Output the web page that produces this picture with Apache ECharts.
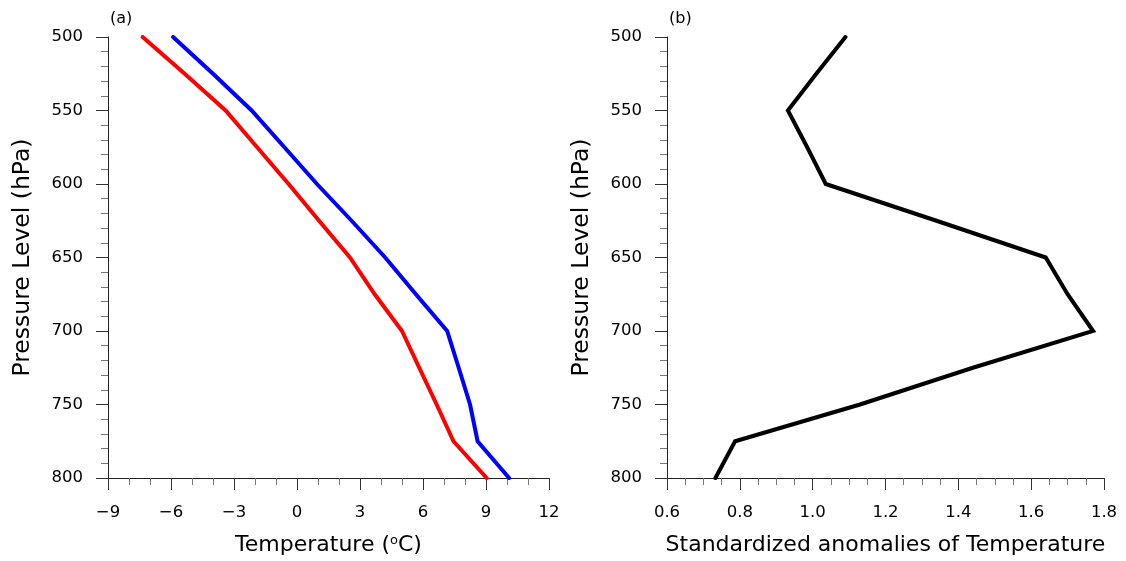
<!DOCTYPE html>
<html>
<head>
<meta charset="utf-8">
<script src="https://cdn.jsdelivr.net/npm/echarts@6/dist/echarts.min.js"></script>
<style>
  html, body { margin: 0; padding: 0; background: #fff; }
  #chart { width: 1126px; height: 561px; }
</style>
</head>
<body>
<div id="chart"></div>
<script>
// Pressure levels (hPa) shared by both profiles
const levels = [500, 525, 550, 575, 600, 625, 650, 675, 700, 725, 750, 775, 800];
// Panel (a): temperature profiles (°C)
const tempRed  = [-7.35, -5.35, -3.4, -1.9, -0.4, 1.05, 2.52, 3.7, 5.0, 5.82, 6.65, 7.45, 9.03];
const tempBlue = [-5.9, -4.0, -2.16, -0.6, 0.95, 2.6, 4.2, 5.66, 7.15, 7.7, 8.24, 8.6, 10.1];
// Panel (b): standardized temperature anomalies
const anomaly  = [1.09, 1.01, 0.932, 0.985, 1.036, 1.34, 1.64, 1.70, 1.77, 1.44, 1.13, 0.787, 0.733];

const FONT = '"DejaVu Sans", Verdana, sans-serif';
const TICK_FS = 16.5;
const TITLE_FS = 22;
const YTITLE_FS = 23.5;

function pairs(xs) { return xs.map((v, i) => [v, levels[i]]); }

function baseAxisStyle() {
  return {
    axisLine: { show: true, onZero: false, lineStyle: { color: '#222', width: 1 } },
    axisTick: { show: true, inside: false, length: 12, lineStyle: { color: '#333', width: 1 } },
    splitLine: { show: false },
    minorSplitLine: { show: false }
  };
}

function yAxisFor(gridIndex) {
  return Object.assign(baseAxisStyle(), {
    type: 'value', gridIndex: gridIndex, inverse: true,
    min: 500, max: 800, interval: 50,
    minorTick: { show: true, splitNumber: 5, length: 7, lineStyle: { color: '#777', width: 1 } },
    axisLabel: { color: '#000', fontFamily: FONT, fontSize: TICK_FS, margin: 25 },
    name: 'Pressure Level (hPa)', nameLocation: 'middle', nameGap: 73,
    nameTextStyle: { color: '#000', fontFamily: FONT, fontSize: YTITLE_FS }
  });
}

const chart = echarts.init(document.getElementById('chart'), null, { renderer: 'canvas' });

chart.setOption({
  animation: false,
  backgroundColor: '#fff',
  grid: [
    { left: 108, top: 37, width: 441, height: 441 },
    { left: 667, top: 37, width: 437, height: 441 }
  ],
  title: [
    { text: '(a)', left: 105, top: 6, textStyle: { fontFamily: FONT, fontSize: 16, fontWeight: 'normal', color: '#000' } },
    { text: '(b)', left: 664, top: 6, textStyle: { fontFamily: FONT, fontSize: 16, fontWeight: 'normal', color: '#000' } }
  ],
  xAxis: [
    Object.assign(baseAxisStyle(), {
      type: 'value', gridIndex: 0, min: -9, max: 12, interval: 3,
      minorTick: { show: true, splitNumber: 3, length: 7, lineStyle: { color: '#777', width: 1 } },
      axisLabel: {
        color: '#000', fontFamily: FONT, fontSize: TICK_FS, margin: 26,
        formatter: v => (v < 0 ? '\u2212' + Math.abs(v) : String(v))
      },
      name: 'Temperature ({sup|o}C)', nameLocation: 'middle', nameGap: 56,
      nameTextStyle: {
        color: '#000', fontFamily: FONT, fontSize: TITLE_FS,
        rich: { sup: { fontFamily: FONT, fontSize: 13, color: '#000', verticalAlign: 'top', padding: [0, 0, 8, 0] } }
      }
    }),
    Object.assign(baseAxisStyle(), {
      type: 'value', gridIndex: 1, min: 0.6, max: 1.8, interval: 0.2,
      minorTick: { show: true, splitNumber: 4, length: 7, lineStyle: { color: '#777', width: 1 } },
      axisLabel: { color: '#000', fontFamily: FONT, fontSize: TICK_FS, margin: 26, formatter: v => v.toFixed(1) },
      name: 'Standardized anomalies of Temperature', nameLocation: 'middle', nameGap: 56,
      nameTextStyle: { color: '#000', fontFamily: FONT, fontSize: TITLE_FS }
    })
  ],
  yAxis: [yAxisFor(0), yAxisFor(1)],
  series: [
    {
      type: 'line', xAxisIndex: 0, yAxisIndex: 0, data: pairs(tempRed),
      showSymbol: false, symbol: 'none',
      lineStyle: { color: '#ff0000', width: 4, cap: 'round', join: 'miter' }
    },
    {
      type: 'line', xAxisIndex: 0, yAxisIndex: 0, data: pairs(tempBlue),
      showSymbol: false, symbol: 'none',
      lineStyle: { color: '#0000ff', width: 4, cap: 'round', join: 'miter' }
    },
    {
      type: 'line', xAxisIndex: 1, yAxisIndex: 1, data: pairs(anomaly),
      showSymbol: false, symbol: 'none',
      lineStyle: { color: '#000', width: 4, cap: 'round', join: 'miter' }
    }
  ]
});
</script>
</body>
</html>
